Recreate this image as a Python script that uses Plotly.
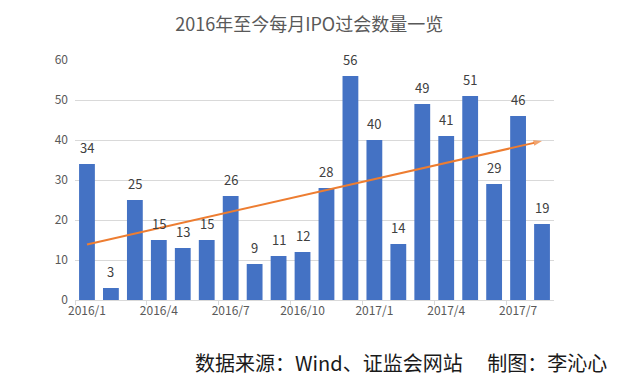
import numpy as np
import plotly.graph_objects as go

months = ["2016/1", "2016/2", "2016/3", "2016/4", "2016/5", "2016/6", "2016/7",
          "2016/8", "2016/9", "2016/10", "2016/11", "2016/12", "2017/1", "2017/2",
          "2017/3", "2017/4", "2017/5", "2017/6", "2017/7", "2017/8"]
ipo_counts = [34, 3, 25, 15, 13, 15, 26, 9, 11, 12, 28, 56, 40, 14, 49, 41, 51, 29, 46, 19]

title_text = "2016年至今每月IPO过会数量一览"
source_text = "数据来源：Wind、证监会网站\u3000 制图：李沁心"

FONT = "Noto Sans CJK SC, Noto Sans, sans-serif"
BAR = "#4472C4"
TREND = "#ED7D31"

# linear trend line (Excel-style), computed from the data
idx = np.arange(1, len(ipo_counts) + 1)
slope, intercept = np.polyfit(idx, ipo_counts, 1)
trend_y = [slope * idx[0] + intercept, slope * idx[-1] + intercept]

fig = go.Figure()
fig.add_trace(go.Bar(x=months, y=ipo_counts, marker_color=BAR, marker_line_width=0,
                     hoverinfo="x+y"))
fig.add_trace(go.Scatter(
    x=[months[0], months[-1]], y=trend_y, mode="lines+markers",
    line=dict(color=TREND, width=2),
    marker=dict(symbol=["circle", "arrow"], size=[0, 9], color=TREND,
                angleref="previous", line_width=0),
    hoverinfo="skip"))

for m, v in zip(months, ipo_counts):
    fig.add_annotation(x=m, y=v, text=str(v), showarrow=False, yshift=17,
                       font=dict(family=FONT, size=13, color="#404040"))

fig.add_annotation(xref="paper", yref="paper", x=1.115, y=-0.262, xanchor="right",
                   yanchor="middle", text=source_text, showarrow=False,
                   font=dict(family=FONT, size=20, color="#1a1a1a"))

fig.update_layout(
    width=621, height=376,
    margin=dict(l=67, r=75, t=52, b=84, autoexpand=False),
    paper_bgcolor="white", plot_bgcolor="white",
    showlegend=False, bargap=0.34,
    title=dict(text=title_text, x=0.485, xanchor="center", y=0.955, yanchor="middle",
               font=dict(family=FONT, size=18, color="#595959")),
    font=dict(family=FONT, size=12, color="#595959"),
)
fig.update_xaxes(type="category", range=[-0.5, len(months) - 0.5],
                 tickmode="linear", tick0=0, dtick=3,
                 tickson="boundaries", ticks="outside", ticklen=4, tickcolor="#D9D9D9",
                 showline=True, linecolor="#D9D9D9", linewidth=1, showgrid=False,
                 tickangle=0, automargin=False,
                 tickfont=dict(family=FONT, size=12, color="#595959"))
fig.update_yaxes(range=[0, 60], dtick=10, showgrid=True, gridcolor="#D9D9D9",
                 zeroline=False, showline=False, ticks="", ticklabelstandoff=6,
                 automargin=False,
                 tickfont=dict(family=FONT, size=12, color="#595959"))

fig.write_html("out.html")
